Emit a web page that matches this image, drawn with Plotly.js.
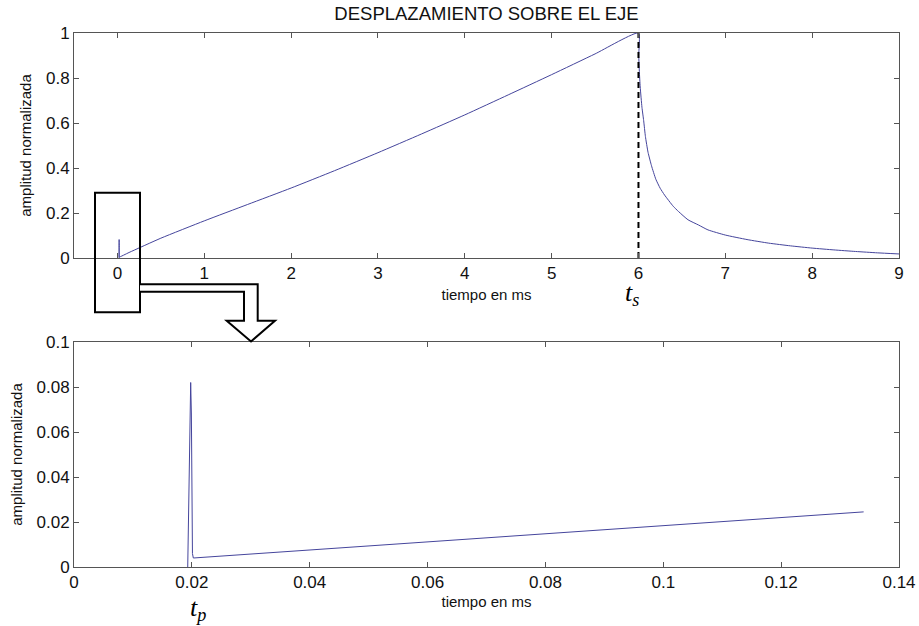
<!DOCTYPE html>
<html>
<head>
<meta charset="utf-8">
<script src="https://cdn.plot.ly/plotly-3.0.1.min.js"></script>
<style>
  html, body { margin: 0; padding: 0; background: #fff; }
  #chart { width: 919px; height: 626px; }
</style>
</head>
<body>
<div id="chart"></div>
<script>
// Early pulse around t_p (ms) and its normalized amplitude
const pulseTime = [0.0193, 0.01955, 0.01968, 0.0198, 0.01992, 0.01997, 0.02003, 0.0201, 0.02025];
const pulseAmp  = [0, 0.042, 0.068, 0.082, 0.068, 0.04, 0.013, 0.006, 0.004];

// Slow rise after the pulse, up to t_s
const riseTime = [0.134, 0.5, 1, 1.5, 2, 2.5, 3, 3.5, 4, 4.5, 5, 5.5, 6];
const riseAmp  = [0.0245, 0.088, 0.165, 0.238, 0.311, 0.388, 0.468, 0.551, 0.636, 0.725, 0.815, 0.907, 1.0];

// Decay after t_s
const decayTime = [6.003, 6.01, 6.02, 6.04, 6.06, 6.08, 6.11, 6.15, 6.2, 6.25, 6.3, 6.4, 6.46, 6.57, 6.69, 6.8, 7.0, 7.25, 7.5, 7.75, 8.0, 8.25, 8.5, 8.75, 9.0];
const decayAmp  = [0.9, 0.83, 0.76, 0.67, 0.61, 0.54, 0.47, 0.41, 0.35, 0.31, 0.28, 0.23, 0.207, 0.17, 0.147, 0.125, 0.102, 0.082, 0.066, 0.054, 0.044, 0.036, 0.029, 0.023, 0.018];

// Marker time
const tS = 6;

// Tick values
const topXTicks = [0, 1, 2, 3, 4, 5, 6, 7, 8, 9];
const topYTicks = [0, 0.2, 0.4, 0.6, 0.8, 1];
const botXTicks = [0, 0.02, 0.04, 0.06, 0.08, 0.1, 0.12, 0.14];
const botYTicks = [0, 0.02, 0.04, 0.06, 0.08, 0.1];

const fullTime = pulseTime.concat(riseTime, decayTime);
const fullAmp  = pulseAmp.concat(riseAmp, decayAmp);

// Zoomed view: pulse plus the start of the rise
const zoomTime = pulseTime.concat(riseTime.slice(0, 1));
const zoomAmp  = pulseAmp.concat(riseAmp.slice(0, 1));

// Plot frame in pixels
const L = 74, R = 899, T = 33, B = 567;
const px = x => (x - L) / (R - L);
const py = y => (B - y) / (B - T);

const lineColor = '#45459c';
const axisColor = '#555';
const font = 'Liberation Sans, Arial, sans-serif';
const serif = 'Liberation Serif, Times New Roman, serif';

const traces = [
  { x: fullTime, y: fullAmp, xaxis: 'x', yaxis: 'y', mode: 'lines',
    line: { color: lineColor, width: 1, shape: 'spline', smoothing: 0.5 }, hoverinfo: 'x+y' },
  { x: [tS, tS], y: [0, 1], xaxis: 'x', yaxis: 'y', mode: 'lines',
    line: { color: '#000', width: 2, dash: '6px,4px' }, hoverinfo: 'skip' },
  { x: zoomTime, y: zoomAmp, xaxis: 'x2', yaxis: 'y2', mode: 'lines',
    line: { color: lineColor, width: 1 }, hoverinfo: 'x+y' }
];

const axisBase = {
  showgrid: false, zeroline: false, showline: true, linecolor: axisColor, linewidth: 1,
  mirror: 'ticks', ticks: 'inside', ticklen: 5, tickcolor: axisColor, tickwidth: 1,
  tickfont: { family: font, size: 17, color: '#111' },
  automargin: false
};
const titleFont = { family: font, size: 15, color: '#111' };

// Arrow from the marked region to the zoomed plot
const arrowPts = [[140, 284.3], [257.7, 284.3], [257.7, 320.7], [275, 320.7], [251, 341.5],
                  [226.7, 320.7], [244, 320.7], [244, 291.7], [140, 291.7]];
const arrowPath = 'M' + arrowPts.map(p => px(p[0]).toFixed(5) + ',' + py(p[1]).toFixed(5)).join(' L');

const layout = {
  width: 919, height: 626,
  margin: { l: L, r: 919 - R, t: T, b: 626 - B },
  paper_bgcolor: '#fff', plot_bgcolor: '#fff',
  showlegend: false,
  title: { text: 'DESPLAZAMIENTO SOBRE EL EJE', font: { family: font, size: 18.5, color: '#111' },
           xref: 'paper', x: 0.5, xanchor: 'center', yref: 'container', y: 1 - 14 / 626, yanchor: 'middle' },
  xaxis: Object.assign({}, axisBase, { domain: [0, 1], range: [-0.5, 9], tickvals: topXTicks, anchor: 'y',
           title: { text: 'tiempo en ms', font: titleFont, standoff: 7 } }),
  yaxis: Object.assign({}, axisBase, { domain: [py(258), 1], range: [0, 1], tickvals: topYTicks, anchor: 'x',
           title: { text: 'amplitud normalizada', font: titleFont, standoff: 10 } }),
  xaxis2: Object.assign({}, axisBase, { domain: [0, 1], range: [0, 0.14], tickvals: botXTicks, anchor: 'y2',
           title: { text: 'tiempo en ms', font: titleFont, standoff: 5 } }),
  yaxis2: Object.assign({}, axisBase, { domain: [0, py(342)], range: [0, 0.1], tickvals: botYTicks, anchor: 'x2',
           title: { text: 'amplitud normalizada', font: titleFont, standoff: 10 } }),
  shapes: [
    { type: 'rect', xref: 'paper', yref: 'paper', x0: px(95), x1: px(140), y0: py(312.3), y1: py(192.7),
      line: { color: '#000', width: 2 }, fillcolor: 'rgba(0,0,0,0)' },
    { type: 'path', xref: 'paper', yref: 'paper', path: arrowPath,
      line: { color: '#000', width: 2 }, fillcolor: '#fff' }
  ],
  annotations: [
    { xref: 'paper', yref: 'paper', x: px(641), y: py(276), yanchor: 'top', showarrow: false,
      text: '<i>t<sub>s</sub></i>', font: { family: serif, size: 26, color: '#000' } },
    { xref: 'paper', yref: 'paper', x: px(188), y: py(591), yanchor: 'top', showarrow: false,
      text: '<i>t<sub>p</sub></i>', font: { family: serif, size: 26, color: '#000' } }
  ]
};

Plotly.newPlot('chart', traces, layout, { displayModeBar: false, staticPlot: true });
</script>
</body>
</html>
